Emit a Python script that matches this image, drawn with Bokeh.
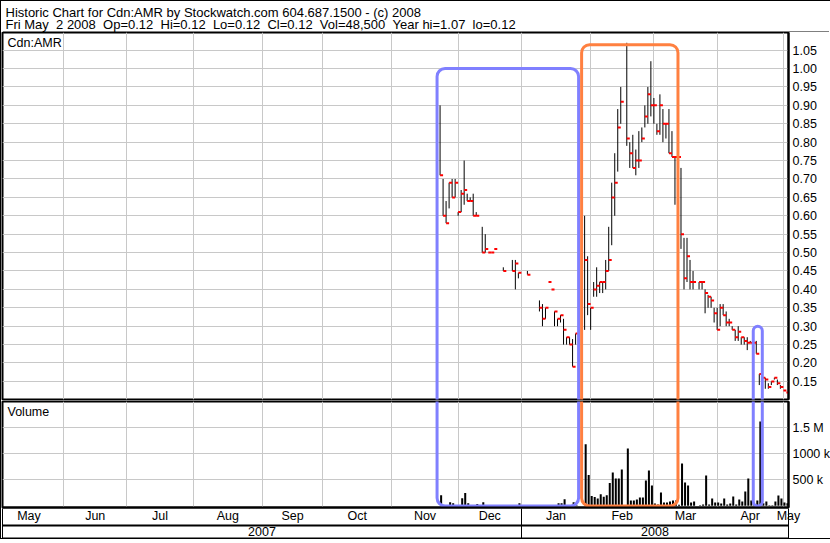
import numpy as np
import pandas as pd
from bokeh.plotting import figure
from bokeh.models import (Range1d, FixedTicker, LinearAxis, Label, Grid, Span,
                          PrintfTickFormatter, ColumnDataSource)
from bokeh.layouts import column
from bokeh.embed import file_html
from bokeh.resources import INLINE

FONT = "Liberation Sans"

# ---------------- data ----------------
header_line1 = "Historic Chart for Cdn:AMR by Stockwatch.com 604.687.1500 - (c) 2008"
header_line2 = ("Fri May \u00a02 2008 \u00a0Op=0.12 \u00a0Hi=0.12 \u00a0Lo=0.12 \u00a0Cl=0.12 "
                "\u00a0Vol=48,500 \u00a0Year hi=1.07 \u00a0lo=0.12")
symbol_label = "Cdn:AMR"
volume_label = "Volume"

axis_origin = "2007-05-01"          # first weekday slot of the time axis
first_day = "2007-11-23"
last_day = "2008-05-02"
N = None

high = [0.90,
        0.70, 0.64, 0.69, 0.70, 0.70,
        0.61, 0.67, 0.75, 0.66, 0.65,
        0.66, 0.61, N, 0.57, 0.55,
        0.50, 0.50, 0.51, N, N,
        0.46, N, N, 0.48, 0.48,
        0.445, N, N, 0.45, N,
        N, N, 0.37, 0.36, 0.35,
        0.42, 0.40, 0.34, 0.32, 0.33,
        0.32, 0.27, 0.27, 0.265, 0.28,
        N, N, 0.60, 0.49, 0.35,
        0.42, 0.46, 0.42, 0.42, 0.48,
        0.57, 0.69, 0.77, 0.89, 0.95,
        N, 1.07, 0.80, 0.82, 0.78,
        0.83, 0.84, 0.90, 0.95, 1.02,
        0.92, 0.85, 0.93, 0.89, 0.85,
        0.89, 0.83, 0.76, 0.76, 0.73,
        0.54, 0.54, 0.48, 0.45, N,
        0.42, 0.42, 0.40, 0.385, 0.38,
        0.35, 0.35, 0.36, 0.36, 0.34,
        0.32, 0.30, 0.29, 0.30, 0.27,
        0.27, 0.27, 0.26, 0.26, 0.26,
        0.17, 0.17, 0.16, 0.145, 0.15,
        0.16, 0.155, 0.14, 0.125, 0.12]

low = [0.71,
       0.60, 0.58, 0.62, 0.65, 0.65,
       0.60, 0.61, 0.63, 0.64, 0.64,
       0.60, 0.60, N, 0.50, 0.50,
       0.50, 0.50, 0.51, N, N,
       0.45, N, N, 0.45, 0.40,
       0.43, N, N, 0.44, N,
       N, N, 0.34, 0.30, 0.32,
       0.42, 0.40, 0.30, 0.30, 0.31,
       0.25, 0.25, 0.25, 0.19, 0.25,
       N, N, 0.29, 0.33, 0.29,
       0.38, 0.38, 0.39, 0.39, 0.40,
       0.45, 0.52, 0.60, 0.72, 0.85,
       N, 0.79, 0.73, 0.73, 0.71,
       0.73, 0.80, 0.84, 0.85, 0.87,
       0.85, 0.82, 0.82, 0.80, 0.81,
       0.77, 0.76, 0.63, 0.76, 0.51,
       0.40, 0.42, 0.40, 0.40, N,
       0.40, 0.40, 0.335, 0.35, 0.35,
       0.31, 0.29, 0.30, 0.33, 0.30,
       0.30, 0.29, 0.26, 0.26, 0.25,
       0.25, 0.235, 0.255, 0.25, 0.225,
       0.14, 0.155, 0.13, 0.13, 0.14,
       0.155, 0.14, 0.13, 0.125, 0.12]

close = [0.71,
         0.60, 0.58, 0.69, 0.65, 0.69,
         0.61, 0.66, 0.67, 0.64, 0.64,
         0.60, 0.60, N, 0.50, 0.51,
         0.50, 0.50, 0.51, N, N,
         0.45, N, N, 0.45, 0.47,
         0.445, N, N, 0.44, N,
         N, N, 0.35, 0.32, 0.35,
         0.42, 0.40, 0.34, 0.32, 0.33,
         0.29, 0.27, 0.25, 0.19, 0.28,
         N, N, 0.48, 0.36, 0.35,
         0.40, 0.41, 0.42, 0.42, 0.45,
         0.48, 0.65, 0.69, 0.84, 0.91,
         N, 0.81, 0.77, 0.73, 0.75,
         0.75, 0.81, 0.87, 0.93, 0.90,
         0.90, 0.83, 0.90, 0.85, 0.85,
         0.77, 0.76, 0.76, 0.76, 0.55,
         0.43, 0.49, 0.42, 0.42, N,
         0.42, 0.42, 0.39, 0.38, 0.37,
         0.335, 0.29, 0.35, 0.33, 0.31,
         0.31, 0.29, 0.27, 0.285, 0.27,
         0.26, 0.255, 0.255, 0.255, 0.225,
         0.17, 0.16, 0.155, 0.135, 0.15,
         0.16, 0.145, 0.135, 0.125, 0.12]

volume_k = [205,
            10, 10, 70, 51, 10,
            10, 147, 244, 51, 10,
            10, 32, N, 70, 10,
            10, 10, 10, N, N,
            10, N, N, 10, 10,
            51, N, N, 10, N,
            N, N, 10, 10, 10,
            10, 10, 10, 51, 51,
            128, 10, 10, 70, 10,
            N, N, 1186, 590, 186,
            167, 141, 224, 173, 205,
            436, 641, 526, 526, 699,
            N, 1103, 103, 103, 122,
            160, 160, 487, 679, 391,
            45, 26, 256, 64, 64,
            83, 103, 103, 20, 814,
            449, 391, 64, 83, N,
            10, 26, 583, 26, 141,
            64, 64, 45, 141, 26,
            45, 180, 26, 122, 83,
            276, 526, 103, 20, 100,
            1622, 50, 83, 10, 10,
            83, 199, 141, 64, 48.5]

price_ticks = [0.15, 0.20, 0.25, 0.30, 0.35, 0.40, 0.45, 0.50, 0.55, 0.60,
               0.65, 0.70, 0.75, 0.80, 0.85, 0.90, 0.95, 1.00, 1.05]
volume_ticks = [500000, 1000000, 1500000]
volume_tick_labels = ["500 k", "1000 k", "1.5 M"]

month_names = ["May", "Jun", "Jul", "Aug", "Sep", "Oct", "Nov", "Dec",
               "Jan", "Feb", "Mar", "Apr", "May"]
month_starts = ["2007-05-01", "2007-06-01", "2007-07-01", "2007-08-01", "2007-09-01",
                "2007-10-01", "2007-11-01", "2007-12-01", "2008-01-01", "2008-02-01",
                "2008-03-01", "2008-04-01", "2008-05-01", "2008-06-01"]
year_names = ["2007", "2008"]
year_starts = ["2007-01-01", "2008-01-01", "2009-01-01"]

# highlighted periods (rounded boxes)
hl_start = ["2007-11-22", "2008-01-29", "2008-04-17"]
hl_end = ["2008-01-28", "2008-03-13", "2008-04-22"]
hl_top = [1.00, 1.065, 0.30]
hl_color = ["#8080FF", "#FF8040", "#8080FF"]

# ---------------- helpers ----------------
origin = np.datetime64(axis_origin, "D")


def slot(d):
    return np.busday_count(origin, np.asarray(d, dtype="datetime64[D]")).astype(float)


dates = pd.bdate_range(first_day, last_day)
k = slot(dates.values.astype("datetime64[D]"))
H = np.array(high, dtype=float)
L = np.array(low, dtype=float)
C = np.array(close, dtype=float)
V = np.array(volume_k, dtype=float) * 1000.0

xr = Range1d(2.7, 263.7)
yr_price = Range1d(0.1008, 1.098)
yr_vol = Range1d(-33000, 2006000)

FRAME_W = 786
RIGHT_W = 41
HEADER_H = 31
PRICE_H = 367
VOL_H = 106
GRID = "#C8C8C8"
TXT = dict(text_font=FONT, text_font_size="12.5px", text_color="black")

mb = slot(month_starts)
month_centers = np.clip((mb[:-1] + mb[1:]) / 2.0, xr.start, xr.end - 0.01)
month_grid = [float(v) for v in mb[1:-1] if xr.start < v < xr.end]
yb = np.clip(slot(year_starts), xr.start, xr.end)
year_centers = (yb[:-1] + yb[1:]) / 2.0
year_sep = [float(v) for v in yb[1:-1]]

# ---------------- header strip ----------------
p0 = figure(x_range=Range1d(0, 1), y_range=Range1d(0, 1),
            frame_width=1 + FRAME_W + RIGHT_W, frame_height=HEADER_H,
            x_axis_type=None, y_axis_type=None, title=None,
            toolbar_location=None, output_backend="svg",
            min_border_left=0, min_border_right=0, min_border_top=0, min_border_bottom=0)
p0.outline_line_color = None
p0.background_fill_color = "white"
p0.border_fill_color = "white"
head_kw = dict(x=0, y=1, x_offset=3, text_align="left", text_baseline="alphabetic",
               text_font=FONT, text_font_size="13px", text_color="black")
p0.add_layout(Label(text=header_line1, y_offset=-11, **head_kw))
p0.add_layout(Label(text=header_line2, y_offset=-23, **head_kw))
p0.add_layout(Span(location=0, dimension="width", line_color="black", line_width=2))


def base_fig(yr, fh, top, bottom):
    p = figure(x_range=xr, y_range=yr, frame_width=FRAME_W, frame_height=fh,
               x_axis_type=None, y_axis_type=None, title=None,
               toolbar_location=None, output_backend="svg",
               min_border_left=1, min_border_right=RIGHT_W,
               min_border_top=top, min_border_bottom=bottom)
    p.outline_line_color = "black"
    p.outline_line_width = 2
    p.background_fill_color = "white"
    p.border_fill_color = "white"
    p.add_layout(Grid(dimension=0, ticker=FixedTicker(ticks=month_grid),
                      grid_line_color=GRID, grid_line_width=1), "center")
    return p


# ---------------- price panel ----------------
p1 = base_fig(yr_price, PRICE_H, 0, 1)
p1.add_layout(Grid(dimension=1, ticker=FixedTicker(ticks=price_ticks),
                   grid_line_color=GRID, grid_line_width=1), "center")

m = ~np.isnan(C)
src = ColumnDataSource(dict(x=k[m], x1=k[m] + 1.0, hi=H[m], lo=L[m], cl=C[m]))
p1.segment(x0="x", y0="lo", x1="x", y1="hi", source=src, line_color="black", line_width=1)
p1.segment(x0="x", y0="cl", x1="x1", y1="cl", source=src, line_color="#FF0000", line_width=2)

hl_l = slot(hl_start)
hl_r = slot(hl_end)
p1.quad(left=hl_l, right=hl_r, top=hl_top, bottom=yr_price.start - 1.0,
        fill_color=None, line_color=hl_color, line_width=3, border_radius=8)

pax = LinearAxis(ticker=FixedTicker(ticks=price_ticks),
                 formatter=PrintfTickFormatter(format="%.2f"),
                 major_tick_in=0, major_tick_out=0, minor_tick_in=0, minor_tick_out=0,
                 axis_line_color="black", axis_line_width=2, major_label_standoff=4,
                 major_label_text_font=FONT, major_label_text_font_size="12.5px",
                 major_label_text_color="black")
p1.add_layout(pax, "right")

p1.add_layout(Label(x=xr.start, y=yr_price.end, x_offset=5, y_offset=-3, text=symbol_label,
                    text_baseline="top", text_align="left", background_fill_color="white",
                    **TXT))

# ---------------- volume panel ----------------
p2 = base_fig(yr_vol, VOL_H, 1, 0)
p2.add_layout(Grid(dimension=1, ticker=FixedTicker(ticks=volume_ticks),
                   grid_line_color=GRID, grid_line_width=1), "center")

mv = ~np.isnan(V)
vsrc = ColumnDataSource(dict(x=k[mv] + 0.35, top=V[mv]))
p2.vbar(x="x", width=0.67, top="top", bottom=0, source=vsrc,
        fill_color="black", line_color=None)

px_v = (yr_vol.end - yr_vol.start) / VOL_H
p2.quad(left=hl_l, right=hl_r, top=yr_vol.end * 10, bottom=yr_vol.start + 1.5 * px_v,
        fill_color=None, line_color=hl_color, line_width=3, border_radius=8)

vax = LinearAxis(ticker=FixedTicker(ticks=volume_ticks),
                 major_label_overrides={float(t): s for t, s in zip(volume_ticks, volume_tick_labels)},
                 major_tick_in=0, major_tick_out=0, minor_tick_in=0, minor_tick_out=0,
                 axis_line_color="black", axis_line_width=2, major_label_standoff=4,
                 major_label_text_font=FONT, major_label_text_font_size="12.5px",
                 major_label_text_color="black")
p2.add_layout(vax, "right")

p2.add_layout(Label(x=xr.start, y=yr_vol.end, x_offset=5, y_offset=-3, text=volume_label,
                    text_baseline="top", text_align="left", background_fill_color="white",
                    **TXT))


def row_axis(ticks, labels, minor, tick_in):
    return LinearAxis(ticker=FixedTicker(ticks=[float(t) for t in ticks],
                                         minor_ticks=[float(v) for v in minor]),
                      major_label_overrides={float(t): s for t, s in zip(ticks, labels)},
                      axis_line_color="black", axis_line_width=2,
                      major_tick_in=0, major_tick_out=0,
                      minor_tick_in=tick_in, minor_tick_out=0,
                      minor_tick_line_color="black", minor_tick_line_width=1,
                      major_label_standoff=1,
                      major_label_text_font=FONT, major_label_text_font_size="12.5px",
                      major_label_text_color="black")


edges = [xr.start + 0.01, xr.end - 0.01]
seps = year_sep + edges
p2.add_layout(row_axis(month_centers, month_names, [], 0), "below")
p2.add_layout(row_axis(year_centers, year_names, seps, 17), "below")
p2.add_layout(LinearAxis(ticker=FixedTicker(ticks=[], minor_ticks=seps), axis_line_color="black",
                         axis_line_width=2, major_tick_out=0, major_tick_in=0,
                         minor_tick_out=0, minor_tick_in=16, minor_tick_line_color="black",
                         major_label_text_font_size="1px", major_label_standoff=0), "below")

layout = column(p0, p1, p2, spacing=0, styles={"border": "1px solid black"})
open("out.html", "w").write(file_html(layout, INLINE))
